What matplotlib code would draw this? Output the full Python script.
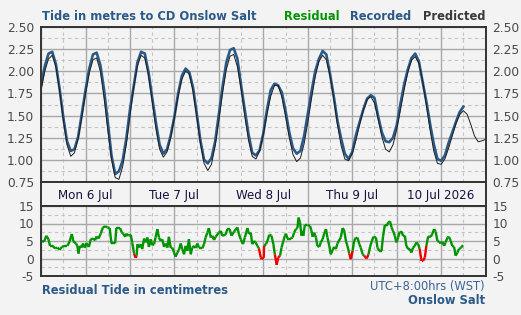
import numpy as np
import matplotlib
matplotlib.use("Agg")
import matplotlib.pyplot as plt
from matplotlib.collections import LineCollection
from matplotlib.ticker import MultipleLocator

# hours since Mon 6 Jul 00:00 (WST)
predicted = [1.79, 2.00, 2.14, 2.18, 2.05, 1.78, 1.45, 1.17, 1.04, 1.08,
             1.24, 1.48, 1.75, 1.98, 2.13, 2.15, 2.00, 1.70, 1.34, 1.01,
             0.80, 0.78, 0.92, 1.17, 1.50, 1.82, 2.06, 2.18, 2.15, 1.95,
             1.66, 1.35, 1.12, 1.03, 1.09, 1.25, 1.48, 1.72, 1.91, 2.00,
             1.97, 1.78, 1.49, 1.19, 0.96, 0.88, 0.95, 1.16, 1.45, 1.76,
             2.02, 2.17, 2.19, 2.05, 1.80, 1.49, 1.22, 1.04, 1.01, 1.10,
             1.29, 1.52, 1.72, 1.84, 1.84, 1.71, 1.49, 1.25, 1.06, 0.98,
             1.02, 1.18, 1.42, 1.69, 1.94, 2.11, 2.18, 2.13, 1.95, 1.69,
             1.40, 1.16, 1.01, 0.99, 1.07, 1.22, 1.40, 1.56, 1.68, 1.715,
             1.64, 1.46, 1.26, 1.12, 1.09, 1.17, 1.34, 1.56, 1.79, 1.99,
             2.125, 2.165, 2.09, 1.89, 1.62, 1.34, 1.10, 0.96, 0.95, 1.01,
             1.13, 1.27, 1.41, 1.51, 1.555, 1.515, 1.40, 1.27, 1.204, 1.215,
             1.23]

recorded = [1.84, 2.06, 2.20, 2.22, 2.08, 1.80, 1.48, 1.21, 1.10, 1.12,
            1.26, 1.52, 1.79, 2.03, 2.19, 2.21, 2.07, 1.79, 1.43, 1.05,
            0.84, 0.87, 0.99, 1.24, 1.57, 1.83, 2.10, 2.22, 2.20, 1.99,
            1.70, 1.42, 1.17, 1.07, 1.12, 1.28, 1.49, 1.75, 1.95, 2.03,
            1.99, 1.82, 1.53, 1.22, 1.00, 0.96, 1.02, 1.21, 1.52, 1.83,
            2.10, 2.24, 2.26, 2.14, 1.84, 1.56, 1.29, 1.08, 1.05, 1.11,
            1.30, 1.57, 1.79, 1.86, 1.84, 1.76, 1.55, 1.31, 1.13, 1.07,
            1.10, 1.27, 1.52, 1.77, 2.00, 2.14, 2.23, 2.19, 1.97, 1.72,
            1.44, 1.24, 1.07, 1.01, 1.09, 1.28, 1.43, 1.57, 1.69, 1.73,
            1.70, 1.49, 1.31, 1.21, 1.20, 1.25, 1.39, 1.63, 1.85, 2.02,
            2.15, 2.20, 2.11, 1.88, 1.66, 1.41, 1.18, 1.01, 0.99, 1.05,
            1.19, 1.31, 1.43, 1.54, 1.60]

res_hours = [0.0, 0.8, 1.4, 2.0, 2.4, 3.1, 3.8, 4.4, 5.0, 5.6, 6.2, 7.1, 7.7,
             8.3, 8.7, 9.4, 9.8, 10.1, 10.4, 10.9, 11.3, 11.8, 12.2, 12.9,
             13.4, 14.0, 14.6, 14.9, 15.5, 16.1, 16.7, 17.3, 17.9, 18.5, 19.0,
             20.0, 20.3, 21.3, 21.8, 22.2, 22.7, 23.0, 23.6, 24.2, 24.6, 25.1,
             25.5, 25.8, 26.0, 26.4, 26.9, 27.3, 27.8, 28.2, 28.7, 29.1, 29.6,
             30.0, 30.5, 30.9, 31.4, 31.8, 32.3, 32.7, 33.2, 33.6, 34.1, 34.5,
             35.0, 35.4, 35.9, 36.3, 36.8, 37.2, 37.7, 38.1, 38.6, 39.0, 39.5,
             39.9, 40.4, 40.8, 41.3, 41.7, 42.2, 42.6, 43.1, 43.5, 44.0, 44.4,
             44.9, 45.3, 45.8, 46.2, 46.7, 47.1, 48.0, 48.5, 48.9, 49.8, 50.3,
             50.9, 51.4, 52.1, 53.0, 53.4, 53.9, 54.5, 55.0, 55.7, 56.1, 56.6,
             57.0, 57.5, 57.9, 58.4, 58.8, 59.3, 59.5, 59.9, 60.1, 60.2, 60.7,
             61.1, 61.6, 62.2, 62.7, 63.1, 63.6, 64.0, 64.5, 64.9, 65.4, 65.8,
             66.1, 66.5, 67.4, 67.9, 68.3, 68.8, 69.2, 69.5, 69.9, 70.3, 70.6,
             70.8, 71.2, 71.9, 72.6, 73.0, 73.3, 73.7, 74.2, 74.6, 75.1, 75.5,
             76.0, 76.4, 76.9, 77.3, 77.8, 78.2, 78.7, 79.1, 79.6, 80.0, 80.9,
             81.4, 81.8, 82.3, 82.7, 83.2, 83.6, 84.1, 84.5, 85.0, 85.4, 85.9,
             86.3, 86.8, 87.2, 87.9, 88.4, 88.8, 89.3, 89.7, 90.4, 90.8, 91.3,
             91.9, 92.3, 92.8, 93.3, 93.7, 94.2, 94.6, 95.0, 95.5, 95.9, 96.4,
             96.8, 97.3, 97.7, 98.2, 98.6, 99.1, 99.5, 100.0, 100.4, 100.9,
             101.3, 101.8, 102.2, 102.7, 103.1, 103.6, 104.0, 104.5, 105.2,
             105.6, 106.1, 106.5, 107.0, 107.4, 107.9, 108.3, 108.8, 109.2,
             109.7, 110.1, 110.6, 111.0, 111.5, 111.9, 112.4, 112.8, 113.3,
             113.9]
residual = [5.0, 4.8, 6.5, 5.5, 3.6, 3.6, 2.9, 3.1, 2.5, 3.3, 3.6, 3.6, 4.9,
            7.0, 4.9, 4.3, 3.6, 1.4, 3.6, 3.1, 4.3, 3.1, 4.4, 3.3,
            5.5, 5.7, 5.2, 6.3, 5.7, 7.1, 8.9, 9.2, 8.9, 8.7, 4.3,
            4.3, 8.7, 8.7, 7.4, 7.0, 6.2, 7.1, 6.5, 6.8, 4.6, 1.4,
            0.2, 0.8, 4.1, 3.1, 4.1, 2.7, 5.7, 4.6, 6.0, 3.3, 5.5,
            3.8, 4.1, 6.0, 8.4, 6.0, 5.0, 5.5, 3.3, 4.3, 3.1, 6.2,
            3.0, 3.1, 1.7, 0.5, 1.7, 2.4, 4.3, 2.7, 1.2, 3.6, 2.2,
            5.5, 1.2, 3.1, 3.6, 3.0, 4.3, 3.1, 3.1, 2.9, 4.1, 6.0,
            7.4, 8.7, 6.0, 6.5, 5.3, 6.2, 7.4, 7.9, 6.5, 6.8, 8.4,
            8.4, 6.5, 7.7, 8.9, 7.0, 5.5, 4.1, 6.0, 8.7, 7.0, 7.4,
            4.1, 5.0, 4.6, 3.6, 2.9, 0.3, -0.2, 0.2, 0.2, 3.6, 4.1,
            5.0, 6.8, 6.5, 4.1, 1.2, -1.8, 0.3, 0.8, 3.1, 5.0, 6.5,
            7.1, 5.7, 5.7, 6.0, 7.4, 8.4, 8.7, 11.7, 10.3, 6.5, 7.9,
            6.5, 9.6, 9.6, 9.3, 7.9, 6.2, 7.4, 6.0, 3.6, 3.3, 4.6,
            5.5, 7.0, 8.4, 6.0, 3.6, 1.2, 2.4, 3.3, 2.7, 4.3, 6.0,
            8.7, 8.1, 5.0, 3.6, 1.4, -0.2, 2.2, 5.0, 6.0, 6.0, 4.1,
            3.1, 1.2, 0.8, 0.0, 1.2, 3.3, 5.0, 6.2, 6.0, 3.1, 2.2,
            2.2, 6.2, 9.6, 9.3, 10.3, 10.6, 8.9, 7.9, 6.5, 4.6, 6.0,
            7.7, 7.7, 6.5, 6.5, 3.6, 2.7, 2.7, 1.7, 3.1, 3.6,
            4.6, 4.1, 2.7, -0.7, -0.7, 0.3, 3.6, 6.3, 6.2,
            7.0, 8.4, 7.7, 5.0, 4.8, 4.3, 4.8, 3.6, 4.6,
            6.0, 6.2, 5.0, 3.6, 3.3, 0.8, 1.7, 2.7, 3.0,
            3.8]

day_labels = ["Mon 6 Jul", "Tue 7 Jul", "Wed 8 Jul", "Thu 9 Jul", "10 Jul 2026"]

BG = "#f3f3f3"
BLUE = "#2c5a88"
GREEN = "#009400"
DARK = "#333333"
TICKC = "#4a4a4a"
FS = 8.3
plt.rcParams["font.family"] = "DejaVu Sans"
plt.rcParams["axes.unicode_minus"] = False

fig = plt.figure(figsize=(5.21, 3.15), dpi=100, facecolor=BG)
x0, w = 41.1 / 521, 444.5 / 521
ax = fig.add_axes([x0, 133 / 315, w, 155 / 315], facecolor=BG)
band = fig.add_axes([x0, 109 / 315, w, 24 / 315], facecolor=BG)
axr = fig.add_axes([x0, 39 / 315, w, 70 / 315], facecolor=BG)

hp = np.arange(len(predicted))
hr = np.arange(len(recorded))


def style(a, lo, hi, major, minor):
    a.set_xlim(0, 120)
    a.set_ylim(lo, hi)
    a.xaxis.set_major_locator(MultipleLocator(12))
    a.xaxis.set_minor_locator(MultipleLocator(6))
    a.yaxis.set_major_locator(MultipleLocator(major))
    a.yaxis.set_minor_locator(MultipleLocator(minor))
    a.grid(which="major", color="#a8a8a8", lw=1.0)
    a.grid(which="minor", color="#c4c4c4", lw=0.8, ls=(0, (3, 3)))
    a.set_axisbelow(True)
    a.tick_params(axis="x", which="both", length=0, labelbottom=False)
    a.tick_params(axis="y", which="both", length=0, labelsize=FS + 0.5,
                  labelcolor=TICKC, left=True, right=True, labelleft=True,
                  labelright=True, pad=5)
    for s in a.spines.values():
        s.set_color(DARK)
        s.set_linewidth(1.4)


style(ax, 0.75, 2.5, 0.25, 0.125)
ax.yaxis.set_major_formatter(plt.FormatStrFormatter("%.2f"))
ax.plot(hr, recorded, color=BLUE, lw=1.9, solid_joinstyle="round")
ax.plot(hp, predicted, color="#1e1e1e", lw=0.7)

style(axr, -5, 15, 5, 2.5)
axr.yaxis.set_major_locator(plt.FixedLocator([-5, 0, 5, 10, 15]))
rh = np.array(res_hours)
rv = np.array(residual)
pts = np.column_stack([rh, rv]).reshape(-1, 1, 2)
segs = np.concatenate([pts[:-1], pts[1:]], axis=1)
low = (rv[:-1] < 0.4) | (rv[1:] < 0.4)
cols = np.where(low, "#ee0000", GREEN)
axr.add_collection(LineCollection(segs, colors=cols, linewidths=1.7,
                                  capstyle="butt", joinstyle="miter"))

band.set_xlim(0, 120)
band.set_ylim(0, 1)
band.set_xticks([])
band.set_yticks([])
for s in band.spines.values():
    s.set_color(DARK)
    s.set_linewidth(1.4)
for d in range(1, 5):
    band.axvline(24 * d, color="#a8a8a8", lw=1.0)
for i, lab in enumerate(day_labels):
    band.text(24 * i + 12, 0.45, lab, ha="center", va="center",
              fontsize=FS + 0.3, color="#1a1040")

fig.text(42 / 521, 1 - 20 / 315, "Tide in metres to CD Onslow Salt",
         color=BLUE, fontsize=FS, fontweight="bold", va="baseline")
fig.text(485 / 521, 1 - 20 / 315, "Predicted", color="#3a3a3a",
         fontsize=FS, fontweight="bold", ha="right", va="baseline")
fig.text(411 / 521, 1 - 20 / 315, "Recorded", color=BLUE,
         fontsize=FS, fontweight="bold", ha="right", va="baseline")
fig.text(340 / 521, 1 - 20 / 315, "Residual", color=GREEN,
         fontsize=FS, fontweight="bold", ha="right", va="baseline")

fig.text(42 / 521, 1 - 294 / 315, "Residual Tide in centimetres",
         color=BLUE, fontsize=FS, fontweight="bold", va="baseline")
fig.text(485 / 521, 1 - 290 / 315, "UTC+8:00hrs (WST)", color="#3d6394",
         fontsize=FS, ha="right", va="baseline")
fig.text(485 / 521, 1 - 304 / 315, "Onslow Salt", color=BLUE,
         fontsize=FS, fontweight="bold", ha="right", va="baseline")

fig.savefig("out.png", dpi=100, facecolor=BG)
